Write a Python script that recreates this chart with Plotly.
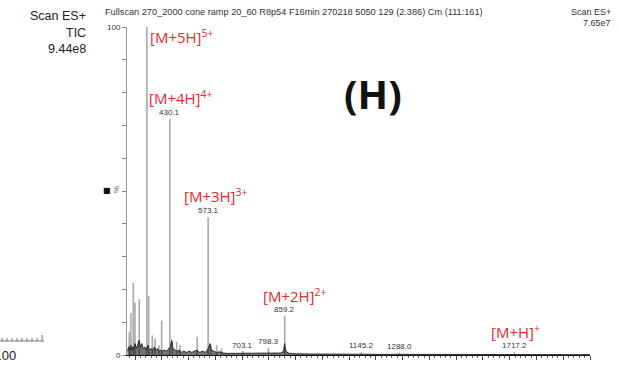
import plotly.graph_objects as go

# ---- data ----
stick_mz = [278.6, 284.9, 293.5, 299.9, 315.9, 344.3, 351.0, 364.4, 374.5, 389.4,
            399.5, 430.1, 439.0, 455.4, 467.8, 532.3, 573.1, 582.3, 604.7, 623.4,
            703.1, 798.3, 859.2, 1145.2, 1288.0, 1717.2]
stick_int = [7, 12.8, 22, 16, 17, 100, 18, 6, 5, 3,
             10.5, 72, 4, 4, 3, 5.6, 42, 3, 3, 2,
             1.2, 2.2, 12, 0.8, 0.7, 1.0]

profile_mz = [272, 276, 280, 284, 288, 292, 296, 300, 305, 310, 315, 320, 325, 330, 336,
              342, 348, 354, 360, 366, 372, 378, 384, 390, 396, 402, 410, 418, 426, 432,
              437, 442, 450, 458, 466, 474, 482, 492, 502, 512, 522, 532, 542, 552, 562,
              570, 576, 580, 586, 594, 604, 616, 630, 645, 660, 680, 700, 720, 745, 770,
              795, 820, 845, 855, 859, 864, 872, 890, 920, 960, 1000, 1100, 1200, 1400,
              1600, 1800, 2000]
profile_int = [1.2, 2.5, 1.5, 3.0, 1.5, 2.5, 2.0, 3.5, 2.0, 3.0, 4.5, 2.5, 3.5, 2.0, 2.5,
               1.5, 3.0, 1.5, 2.0, 1.2, 2.5, 1.5, 2.0, 1.2, 1.5, 1.2, 1.5, 1.2, 2.0, 2.5,
               4.5, 2.0, 1.5, 1.2, 1.5, 0.8, 1.2, 0.8, 1.2, 0.8, 1.2, 1.5, 0.8, 1.2, 0.8,
               1.5, 2.5, 3.5, 1.5, 1.2, 0.8, 1.0, 0.6, 0.5, 0.5, 0.4, 0.6, 0.4, 0.5, 0.4,
               0.6, 0.4, 0.6, 1.2, 3.5, 1.2, 0.6, 0.4, 0.3, 0.3, 0.3, 0.2, 0.2, 0.2,
               0.2, 0.2, 0.1]

peak_labels = ["344.3", "430.1", "573.1", "859.2", "703.1", "798.3", "1145.2", "1288.0", "1717.2"]
peak_label_mz = [344.3, 430.1, 573.1, 859.2, 703.1, 798.3, 1145.2, 1288.0, 1717.2]
peak_label_y = [100.3, 72, 42, 12, 0.8, 2.0, 0.8, 0.6, 1.0]

ion_labels = ["[M+5H]<sup>5+</sup>", "[M+4H]<sup>4+</sup>", "[M+3H]<sup>3+</sup>",
              "[M+2H]<sup>2+</sup>", "[M+H]<sup>+</sup>"]
ion_mz = [348, 344.6, 475, 770, 1624]
ion_y = [97, 78.6, 48.5, 18.2, 7.2]

# ---- build figure ----
xs, ys = [], []
for m, v in zip(stick_mz, stick_int):
    xs += [m, m, None]
    ys += [0, v, None]

fig = go.Figure()
fig.add_trace(go.Scatter(x=xs, y=ys, mode="lines",
                         line=dict(color="#a9a9a9", width=1.6), hoverinfo="skip"))
fig.add_trace(go.Scatter(x=profile_mz, y=profile_int, mode="lines", fill="tozeroy",
                         fillcolor="rgba(0,0,0,0.55)",
                         line=dict(color="#111111", width=0.8), hoverinfo="skip"))

ann = []
for t, m, y in zip(peak_labels, peak_label_mz, peak_label_y):
    ann.append(dict(x=m, y=y, xref="x", yref="y", text=t, showarrow=False,
                    yanchor="bottom", font=dict(family="Liberation Sans", size=8, color="#333")))
for t, m, y in zip(ion_labels, ion_mz, ion_y):
    ann.append(dict(x=m, y=y, xref="x", yref="y", text=t, showarrow=False,
                    xanchor="left", yanchor="middle",
                    font=dict(family="Open Sans", size=15, color="#e8282b")))


def px(xp):
    return (xp - 127) / (590 - 127)


def py(yp):
    return (355 - yp) / (355 - 27)


left_lines = ["Scan ES+", "TIC", "9.44e8"]
left_y = [16, 33, 49]
for t, yy in zip(left_lines, left_y):
    ann.append(dict(x=px(88), y=py(yy), xref="paper", yref="paper", xanchor="right",
                    yanchor="middle", showarrow=False, text=t,
                    font=dict(family="Liberation Sans", size=12.5, color="#222")))

right_lines = ["Scan ES+", "7.65e7"]
right_y = [12, 23]
for t, yy in zip(right_lines, right_y):
    ann.append(dict(x=px(613), y=py(yy), xref="paper", yref="paper", xanchor="right",
                    yanchor="middle", showarrow=False, text=t,
                    font=dict(family="Liberation Sans", size=9, color="#333")))

ann += [
    dict(x=px(103), y=py(12), xref="paper", yref="paper", xanchor="left", yanchor="middle",
         showarrow=False,
         text="Fullscan 270_2000 cone ramp 20_60 R8p54 F16min 270218 5050 129 (2.386) Cm (111:161)",
         font=dict(family="Liberation Sans", size=9.2, color="#333")),
    dict(x=px(373), y=py(94), xref="paper", yref="paper", xanchor="center", yanchor="middle",
         showarrow=False, text="<b>(H)</b>",
         font=dict(family="Open Sans", size=40, color="#111")),
    dict(x=px(107), y=py(190), xref="paper", yref="paper", xanchor="center", yanchor="middle",
         showarrow=False, text="■", font=dict(family="DejaVu Sans", size=8, color="#111")),
    dict(x=px(116), y=py(190), xref="paper", yref="paper", xanchor="center", yanchor="middle",
         showarrow=False, text="%", textangle=-90,
         font=dict(family="Liberation Sans", size=8, color="#555")),
    dict(x=px(18), y=py(356), xref="paper", yref="paper", xanchor="right", yanchor="middle",
         showarrow=False, text="2.00",
         font=dict(family="Liberation Sans", size=13, color="#222")),
]

shapes = [
    dict(type="line", xref="paper", yref="paper", x0=px(-2), x1=px(44), y0=py(341), y1=py(341),
         line=dict(color="#777", width=1)),
]
for tx in range(2, 45, 5):
    h = 6 if tx >= 42 else 3
    shapes.append(dict(type="line", xref="paper", yref="paper", x0=px(tx), x1=px(tx),
                       y0=py(341), y1=py(341 - h), line=dict(color="#777", width=1)))

fig.update_layout(
    width=621, height=371,
    margin=dict(l=127, r=31, t=27, b=16),
    paper_bgcolor="white", plot_bgcolor="white",
    showlegend=False,
    annotations=ann, shapes=shapes,
    xaxis=dict(range=[270, 2000], showgrid=False, zeroline=False, showline=True,
               linecolor="#111", linewidth=1.3, ticks="outside", tick0=300, dtick=100,
               ticklen=4, tickcolor="#444", showticklabels=False,
               minor=dict(ticks="outside", dtick=20, ticklen=2, tickcolor="#666")),
    yaxis=dict(range=[0, 100], showgrid=False, zeroline=False, showline=True,
               linecolor="#999", linewidth=1, ticks="outside", tickvals=[0, 100],
               ticktext=["0", "100"], ticklen=4, tickcolor="#888",
               minor=dict(ticks="outside", dtick=10, ticklen=4, tickcolor="#888"),
               tickfont=dict(family="Liberation Sans", size=8, color="#333")),
)

fig.write_html("out.html", config={"displayModeBar": False},
               post_script="document.body.style.margin='0';")
